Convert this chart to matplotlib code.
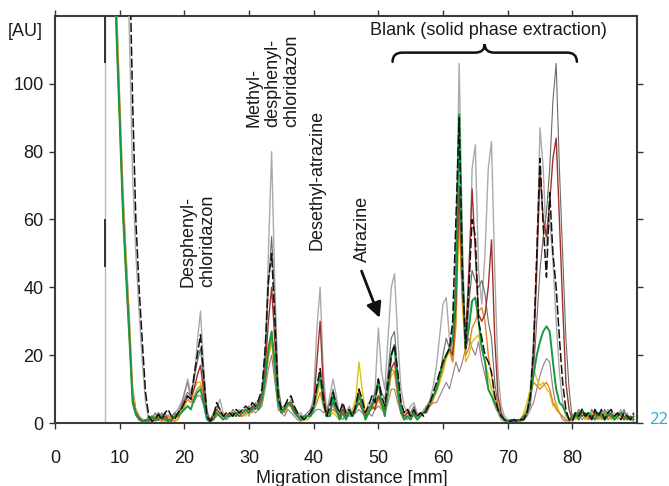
#!/usr/bin/env python

"""
Chromatogramm (Migrationsstrecke) nachzeichnen
"""

import numpy as np
import matplotlib.pyplot as plt
from matplotlib.path import Path
from matplotlib.patches import PathPatch

plt.rcParams["font.family"] = ["Liberation Sans", "DejaVu Sans"]

# migration distance [mm], one sample every 0.5 mm (9.0 ... 89.5)
dist = np.arange(9.0, 90.0, 0.5)

light_gray = [
    300, 250, 200, 170, 145, 115, 73, 50, 33, 18,
    6, 1, 0.5, 2, 1, 3, 1, 2.5, 0.5, 3,
    4, 6, 8, 13, 9, 12, 24, 33, 16, 4,
    0.5, 2, 4, 7, 3, 1, 2, 3, 2, 4,
    3, 4, 2, 5, 4, 6, 8, 18, 50, 80,
    40, 12, 4, 3, 5, 7, 4, 2, 3, 1,
    2, 3, 8, 28, 40, 15, 3, 8, 13, 8,
    2, 4, 3, 5, 3, 6, 9, 5, 3, 6,
    4, 10, 28, 15, 10, 25, 40, 44, 25, 10,
    5, 3, 5, 6, 3, 2, 4, 5, 7, 11,
    17, 26, 35, 37, 25, 20, 50, 106, 55, 20,
    35, 75, 82, 45, 35, 50, 75, 83, 45, 15,
    5, 2, 1, 0.5, 1, 0.5, 1, 2, 4, 10,
    25, 48, 87, 75, 52, 60, 48, 30, 15, 6,
    2, 1, 0.5, 3, 2, 4, 1, 3, 2, 4,
    1, 3, 2, 4, 1, 3, 2, 4, 1, 3,
    1, 2]

mid_gray = [
    170, 118, 92, 66, 46, 28, 9, 4, 2, 1,
    0.5, 2, 1, 3, 1.5, 2, 3, 1, 2, 3,
    2, 5, 7, 9, 8, 13, 18, 22, 12, 3,
    1, 3, 5, 4, 2, 3, 2, 4, 3, 3,
    4, 3, 5, 4, 6, 5, 9, 20, 40, 55,
    35, 10, 5, 4, 6, 6, 4, 3, 1, 2,
    3, 4, 6, 10, 14, 8, 3, 6, 10, 6,
    3, 5, 2, 4, 3, 5, 10, 6, 2, 4,
    6, 9, 13, 9, 7, 15, 25, 27, 15, 6,
    3, 4, 3, 5, 2, 3, 3, 5, 6, 8,
    10, 14, 20, 25, 22, 25, 40, 60, 35, 25,
    35, 45, 42, 40, 42, 38, 30, 25, 12, 5,
    2, 1, 0.5, 1, 0.5, 1, 0.5, 2, 3, 5,
    15, 30, 45, 55, 62, 75, 95, 106, 75, 50,
    25, 10, 1, 2, 4, 2, 3, 1, 4, 2,
    3, 1, 4, 2, 3, 1, 3, 2, 4, 1,
    2, 1]

black = [
    320, 270, 220, 190, 165, 140, 95, 60, 40, 24,
    9, 2, 0.5, 1, 2.5, 1, 3, 4, 2, 1,
    3, 4, 6, 8, 7, 14, 20, 26, 14, 2,
    0.5, 2, 6, 4, 2, 3, 3, 2, 4, 3,
    4, 5, 4, 6, 5, 7, 10, 22, 42, 50,
    30, 8, 4, 5, 7, 8, 5, 3, 2, 1,
    2, 3, 5, 11, 16, 7, 2, 5, 9, 5,
    3, 6, 3, 4, 2, 5, 10, 7, 3, 5,
    8, 6, 13, 8, 5, 12, 20, 23, 15, 6,
    3, 4, 2, 4, 2, 3, 2, 4, 6, 9,
    12, 15, 18, 20, 22, 30, 60, 90, 45, 22,
    40, 60, 55, 30, 25, 20, 18, 15, 8, 4,
    2, 1, 0.5, 0.5, 1, 0.5, 1, 1, 3, 8,
    22, 50, 78, 58, 43, 68, 50, 40, 25, 12,
    4, 1, 0.5, 3, 2, 4, 2, 3, 1, 4,
    2, 4, 1, 3, 4, 2, 3, 1, 3, 2,
    1, 3]

red = [
    160, 116, 90, 63, 44, 26, 7, 3, 1.5, 0.5,
    1, 0.5, 2, 1, 3, 1, 2, 1, 0.5, 2,
    3, 4, 6, 8, 7, 10, 14, 17, 9, 2,
    1, 2, 4, 3, 2, 2, 3, 2, 3, 2,
    3, 4, 3, 5, 4, 6, 8, 16, 30, 40,
    24, 7, 4, 4, 6, 6, 4, 2, 1, 2,
    2, 3, 5, 18, 30, 10, 2, 4, 6, 4,
    2, 4, 2, 3, 2, 4, 6, 4, 2, 3,
    5, 4, 8, 6, 4, 10, 16, 18, 10, 4,
    2, 3, 2, 3, 2, 3, 3, 4, 6, 8,
    10, 14, 18, 20, 22, 20, 35, 70, 40, 25,
    45, 69, 50, 32, 30, 32, 40, 54, 25, 8,
    3, 1, 0.5, 1, 0.5, 1, 1, 2, 3, 7,
    20, 45, 74, 60, 55, 65, 78, 84, 60, 35,
    12, 4, 1, 2, 3, 2, 3, 2, 1, 3,
    2, 3, 1, 2, 3, 1, 2, 3, 2, 1,
    2, 1]

orange = [
    165, 119, 93, 65, 45, 27, 8, 3, 1, 0.5,
    0.5, 1, 0.5, 2, 1, 0.5, 1, 2, 1, 0.5,
    1, 3, 5, 7, 6, 8, 10, 11, 7, 2,
    1, 2, 3, 2, 1, 2, 3, 2, 3, 3,
    2, 3, 4, 3, 5, 4, 6, 12, 20, 25,
    15, 5, 4, 3, 5, 6, 3, 2, 1, 1,
    2, 3, 4, 6, 9, 5, 2, 3, 4, 3,
    2, 3, 2, 3, 2, 5, 9, 6, 3, 4,
    4, 5, 7, 5, 3, 9, 16, 15, 8, 3,
    2, 2, 3, 2, 1, 2, 3, 4, 5, 7,
    10, 13, 16, 20, 22, 18, 30, 65, 38, 20,
    22, 28, 30, 33, 34, 30, 20, 14, 8, 5,
    2, 1, 0.5, 1, 0.5, 0.5, 1, 2, 4, 8,
    12, 11, 10, 11, 12, 10, 6, 4, 3, 2,
    1, 0.5, 1, 2, 1, 3, 2, 1, 2, 3,
    1, 2, 3, 1, 2, 1, 3, 2, 1, 2,
    1, 2]

yellow = [
    175, 121, 94, 67, 47, 29, 9, 3.5, 1.5, 0.5,
    0.5, 1, 0.5, 1, 2, 1, 0.5, 1, 2, 1,
    2, 3, 5, 8, 7, 10, 12, 12, 8, 2,
    1, 2, 3, 3, 2, 2, 3, 3, 2, 3,
    3, 2, 4, 4, 5, 4, 6, 12, 19, 24,
    15, 5, 3, 4, 5, 5, 3, 2, 2, 1,
    1, 2, 4, 8, 12, 7, 3, 2, 3, 2,
    1, 3, 2, 3, 4, 7, 18, 10, 3, 3,
    5, 6, 8, 4, 3, 8, 14, 15, 8, 3,
    2, 3, 2, 3, 1, 2, 3, 4, 6, 7,
    9, 12, 15, 19, 21, 18, 28, 64, 36, 18,
    20, 24, 25, 26, 22, 18, 14, 10, 7, 4,
    2, 1, 0.5, 0.5, 1, 0.5, 1, 3, 6, 10,
    16, 13, 11, 12, 10, 9, 5, 6, 3, 2,
    1, 0.5, 2, 1, 2, 3, 1, 2, 3, 1,
    2, 1, 2, 3, 1, 2, 1, 3, 1, 2,
    1, 1]

green = [
    155, 115, 89, 62, 43, 25, 6, 2.5, 1, 0.5,
    0.5, 1, 2, 1, 1, 2, 1, 0.5, 1, 2,
    2, 3, 4, 5, 4, 7, 9, 10, 6, 1,
    0.5, 1, 3, 2, 1, 2, 2, 3, 2, 3,
    3, 4, 3, 4, 5, 4, 7, 13, 22, 27,
    17, 6, 3, 4, 6, 5, 3, 2, 1, 2,
    2, 2, 4, 10, 14, 6, 2, 2, 8, 4,
    1, 3, 1, 3, 2, 4, 8, 5, 1, 3,
    5, 7, 12, 6, 2, 10, 20, 23, 10, 3,
    1, 2, 1, 3, 1, 2, 3, 4, 6, 8,
    10, 14, 18, 20, 22, 25, 40, 91, 45, 22,
    28, 36, 37, 30, 22, 18, 10, 8, 6, 4,
    2, 1, 0.5, 0.5, 1, 0.5, 1, 1, 3, 8,
    14, 20, 24, 27, 28.5, 27, 18, 10, 6, 5,
    3, 1, 2, 3, 1, 4, 2, 3, 2, 1,
    3, 2, 1, 3, 2, 1, 2, 3, 1, 2,
    1, 2]

mauve = [
    180, 125, 97, 70, 50, 32, 11, 4, 2, 1,
    0.5, 1, 2, 0.5, 1, 3, 1, 0.5, 1, 2,
    3, 5, 9, 12, 7, 6, 8, 8, 5, 1,
    0.5, 1, 2, 3, 2, 1, 2, 2, 3, 2,
    2, 3, 3, 4, 3, 4, 5, 10, 16, 20,
    12, 4, 3, 2, 4, 3, 2, 1, 0.5, 1,
    1, 2, 3, 4, 4, 3, 4, 6, 5, 3,
    2, 1, 3, 2, 2, 3, 4, 3, 2, 3,
    2, 4, 5, 4, 3, 6, 10, 10, 6, 3,
    2, 1, 2, 3, 2, 2, 3, 3, 5, 6,
    6, 8, 10, 12, 10, 14, 18, 15, 18, 22,
    25, 22, 20, 24, 18, 14, 10, 8, 5, 3,
    1, 0.5, 0.5, 1, 0.5, 1, 0.5, 1, 2, 4,
    6, 10, 14, 17, 19, 18, 10, 5, 3, 1,
    0.5, 1, 2, 1, 3, 1, 2, 1, 3, 1,
    2, 1, 3, 1, 2, 1, 2, 1, 2, 1,
    1, 0.5]

# start line and its black pieces
start_x = 7.7
start_dash_lo = [106, 46]
start_dash_hi = [120, 60]

x_ticks = [0, 10, 20, 30, 40, 50, 60, 70, 80]
y_ticks = [0, 20, 40, 60, 80, 100]


def add_brace(ax, x0, x1, y, h=2.7, r=1.5, tip=2.5):
    xm = (x0 + x1) / 2
    verts = [(x0, y - h), (x0, y), (x0 + r, y),
             (xm - r, y),
             (xm, y), (xm, y + tip),
             (xm, y), (xm + r, y),
             (x1 - r, y),
             (x1, y), (x1, y - h)]
    codes = [Path.MOVETO, Path.CURVE3, Path.CURVE3,
             Path.LINETO,
             Path.CURVE3, Path.CURVE3,
             Path.CURVE3, Path.CURVE3,
             Path.LINETO,
             Path.CURVE3, Path.CURVE3]
    ax.add_patch(PathPatch(Path(verts, codes), fill=False, lw=1.8,
                           edgecolor="#111111", capstyle="round"))


def make_graph():
    fig = plt.figure(figsize=(6.69, 4.86), dpi=100)
    ax = fig.add_axes([55/669, 1-423/486, 582/669, 407/486])

    ax.axvline(start_x, color="#c9b4b4", lw=1.0, zorder=1)
    ax.vlines([start_x]*2, start_dash_lo, start_dash_hi, color="#222222", lw=1.3, zorder=2)

    traces = [
        (light_gray, "#aaaaaa", 1.0),
        (mid_gray, "#6a6a6a", 0.8),
        (mauve, "#9a7888", 0.8),
        (yellow, "#d8c60e", 1.0),
        (orange, "#e8861a", 1.0),
        (red, "#a2302a", 1.0),
        (green, "#179a44", 1.4),
    ]
    for y, c, lw in traces:
        ax.plot(dist, y, color=c, lw=lw, zorder=3)
    ax.plot(dist, black, color="#111111", lw=1.1, dashes=(6, 1.8), zorder=4)

    ax.set_xlim(0, 90)
    ax.set_ylim(0, 120)
    ax.set_xticks(x_ticks)
    ax.set_yticks(y_ticks)
    ax.tick_params(direction="out", length=4.3, width=1.0, color="#333333",
                   labelsize=13, labelcolor="#1a1a1a", top=True, right=True)
    ax.tick_params(axis="x", pad=15)
    ax.tick_params(axis="y", pad=4)
    for s in ax.spines.values():
        s.set_color("#3a3a3a")
        s.set_linewidth(1.5)

    fig.text(43/669, 1-32/486, "[AU]", ha="right", va="center", fontsize=13, color="#1a1a1a")
    fig.text(352/669, 1-478/486, "Migration distance [mm]", ha="center", va="center",
             fontsize=13, color="#1a1a1a")
    fig.text(649/669, 1-420/486, "22", ha="left", va="center", fontsize=12,
             color="#2aa8e0", family=["Open Sans", "DejaVu Sans"])

    kw = dict(rotation=90, fontsize=13, color="#1a1a1a", multialignment="left",
              linespacing=1.15)
    ax.text(22.1, 40.2, "Desphenyl-\nchloridazon", ha="center", va="bottom", **kw)
    ax.text(33.7, 87.3, "Methyl-\ndesphenyl-\nchloridazon", ha="center", va="bottom", **kw)
    ax.text(40.5, 51.0, "Desethyl-atrazine", ha="center", va="bottom", **kw)
    ax.text(47.6, 47.6, "Atrazine", ha="center", va="bottom", **kw)
    ax.annotate("", xy=(50.2, 31), xytext=(47.4, 44.8),
                arrowprops=dict(arrowstyle="-|>,head_length=0.9,head_width=0.45",
                                color="#111111", lw=2.0, shrinkA=0, shrinkB=0))

    ax.text(67.0, 115.8, "Blank (solid phase extraction)", ha="center", va="center",
            fontsize=13, color="#1a1a1a")
    add_brace(ax, 52.2, 80.7, 109.2)

    fig.savefig("out.png", dpi=100)
    plt.close(fig)


def main():
    make_graph()


if __name__ == "__main__":
    main()
